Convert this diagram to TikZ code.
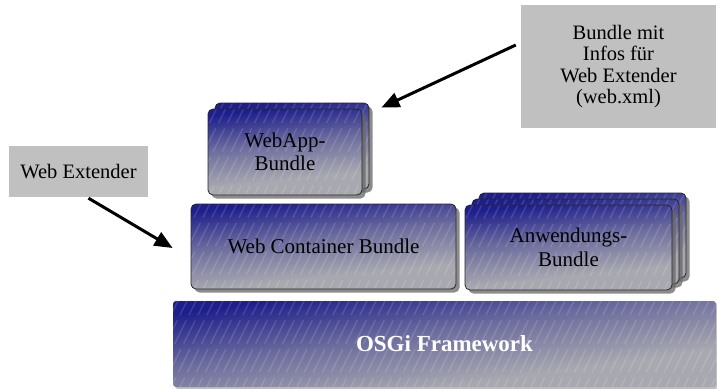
\documentclass[tikz,border=0pt]{standalone}
\usepackage{fontspec}
\setmainfont{Liberation Serif}
\usetikzlibrary{arrows.meta,shadows}
\definecolor{bblue}{RGB}{30,30,140}
\definecolor{bmid}{RGB}{108,108,158}
\definecolor{bgray}{RGB}{168,168,176}
\definecolor{boxgray}{RGB}{192,192,192}
\pgfdeclareverticalshading{bshade}{100bp}{color(0bp)=(bgray); color(35bp)=(bgray); color(55bp)=(bmid); color(74bp)=(bblue); color(100bp)=(bblue)}
\tikzset{
  stripes/.style={path picture={
    \foreach \k in {-42,...,42}{
      \draw[white,opacity=0.13,line width=1.4pt,dash pattern=on 26pt off 6pt]
        ([xshift=\k*9pt-100pt,yshift=-200pt]path picture bounding box.center) -- ++(200pt,400pt);
    }}},
  bundle/.style={draw=black!85, line width=0.8pt, rounded corners=5pt,
    shade, shading=bshade, shading angle=6, stripes,
    drop shadow={shadow xshift=3.5pt,shadow yshift=-3.5pt,opacity=0.75,fill=black!60},
    font=\fontsize{21}{23.5}\selectfont, align=center, inner sep=0pt},
  base/.style={rounded corners=3pt, shade, shading=bshade, shading angle=8, stripes,
    drop shadow={shadow xshift=2pt,shadow yshift=-2pt,opacity=0.5,fill=black!50},
    font=\fontsize{23}{25}\selectfont\bfseries, text=white, inner sep=0pt},
  note/.style={fill=boxgray, inner sep=0pt, align=center, font=\fontsize{20.5}{21.5}\selectfont},
  pointer/.style={line width=3pt, -{Triangle[length=18pt,width=15pt]}}
}
\begin{document}
\begin{tikzpicture}[x=1pt,y=-1pt]
\useasboundingbox (0,0) rectangle (717,388);
% base
\node[base, minimum width=543pt, minimum height=86pt] (osgi) at (444.5,344) {OSGi Framework};
% web container
\node[bundle, minimum width=265pt, minimum height=85pt] (wcb) at (323.5,246.5) {Web Container Bundle};
% webapp stack
\node[bundle, minimum width=154pt, minimum height=86pt] (wa2) at (292,146) {};
\node[bundle, minimum width=154pt, minimum height=86pt] (wa) at (285,152) {WebApp-\\Bundle};
% anwendungs stack
\node[bundle, minimum width=207pt, minimum height=85pt] (an3) at (582.5,235.5) {};
\node[bundle, minimum width=207pt, minimum height=85pt] (an2) at (575.5,241.5) {};
\node[bundle, minimum width=207pt, minimum height=85pt] (an) at (568.5,247.5) {Anwendungs-\\Bundle};
% notes
\node[note, minimum width=195pt, minimum height=123pt] (info) at (618.5,66.5) {Bundle mit\\Infos für\\Web Extender\\(web.xml)};
\node[note, minimum width=139pt, minimum height=51pt] (ext) at (78.5,171.5) {Web Extender};
% arrows
\coordinate (t1) at ([shift={(-5pt,21.5pt)}]info.west);
\coordinate (h1) at ([shift={(12pt,-5pt)}]wa2.north east);
\draw[pointer] (t1) -- (h1);
\coordinate (t2) at ([shift={(10pt,-1pt)}]ext.south);
\coordinate (h2) at ([shift={(-18pt,-1.5pt)}]wcb.west);
\draw[pointer] (t2) -- (h2);
\end{tikzpicture}
\end{document}
